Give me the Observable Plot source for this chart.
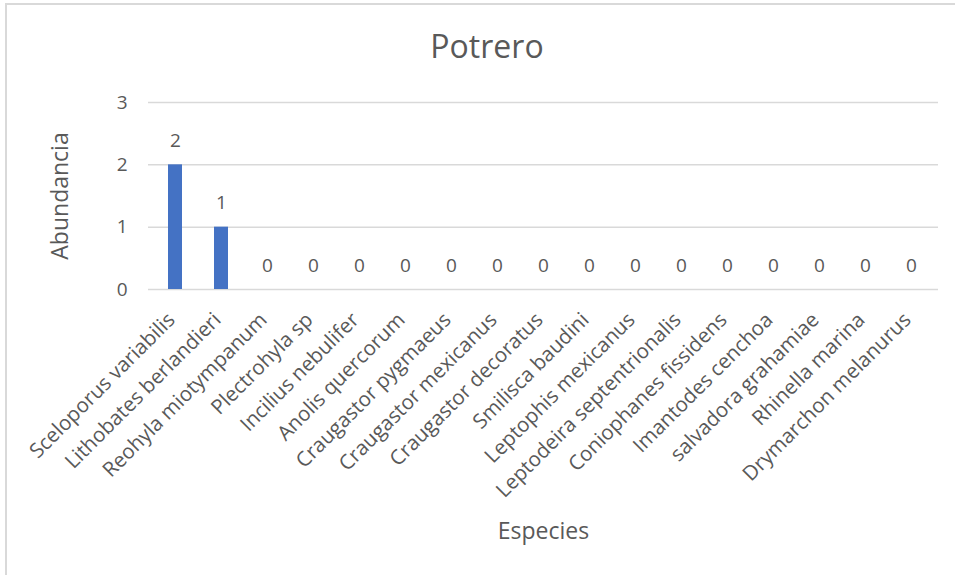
<!DOCTYPE html>
<html>
<head>
<meta charset="utf-8">
<script src="https://cdn.jsdelivr.net/npm/d3@7"></script>
<script src="https://cdn.jsdelivr.net/npm/@observablehq/plot@0.6"></script>
<style>
  html, body { margin: 0; padding: 0; background: #fff; }
  #chart {
    position: relative;
    width: 955px;
    height: 575px;
    overflow: hidden;
    font-family: "Open Sans", sans-serif;
    color: #595959;
  }
  #border {
    position: absolute;
    left: 5px;
    top: 3px;
    width: 1100px;
    height: 1100px;
    border: 2px solid #d9d9d9;
    box-sizing: border-box;
  }
  #title {
    position: relative;
    height: 32px;
    padding-top: 30px;
    padding-bottom: 13px;
    padding-left: 19px;
    font-size: 32px;
    line-height: 32px;
    text-align: center;
  }
  #plot { position: relative; }
</style>
</head>
<body>
<div id="chart">
  <div id="border"></div>
  <div id="title">Potrero</div>
  <div id="plot"></div>
</div>
<script>
// Species sampled at the Potrero site
const species = [
  "Sceloporus variabilis",
  "Lithobates berlandieri",
  "Reohyla miotympanum",
  "Plectrohyla sp",
  "Incilius nebulifer",
  "Anolis quercorum",
  "Craugastor pygmaeus",
  "Craugastor mexicanus",
  "Craugastor decoratus",
  "Smilisca baudini",
  "Leptophis mexicanus",
  "Leptodeira septentrionalis",
  "Coniophanes fissidens",
  "Imantodes cenchoa",
  "salvadora grahamiae",
  "Rhinella marina",
  "Drymarchon melanurus"
];

// Number of individuals recorded per species
const abundance = [2, 1, 0, 0, 0, 0, 0, 0, 0, 0, 0, 0, 0, 0, 0, 0, 0];

const yTicks = [0, 1, 2, 3];

const yLabel = "Abundancia";
const xLabel = "Especies";

const rows = species.map((s, i) => ({species: s, count: abundance[i]}));

const textColor = "#595959";
const gridColor = "#d9d9d9";
const barColor = "#4472C4";

const chart = Plot.plot({
  width: 955,
  height: 500,
  marginTop: 27,
  marginBottom: 286,
  marginLeft: 148,
  marginRight: 17,
  style: {
    fontFamily: "'Open Sans', sans-serif",
    fontSize: "19px",
    color: textColor,
    background: "transparent",
    overflow: "visible"
  },
  x: {domain: species, paddingInner: 0.7, paddingOuter: 0.35},
  y: {domain: [0, 3]},
  marks: [
    Plot.gridY(yTicks, {stroke: gridColor, strokeOpacity: 1, strokeWidth: 1.5}),
    Plot.barY(rows, {x: "species", y: "count", fill: barColor}),
    Plot.text(rows, {
      x: "species",
      y: "count",
      text: d => String(d.count),
      dy: -24,
      fill: textColor,
      fontSize: 19
    }),
    Plot.axisY(yTicks, {
      tickSize: 0,
      tickPadding: 21,
      tickFormat: d3.format("d"),
      label: null,
      fontSize: 19,
      fill: textColor
    }),
    Plot.axisX({
      tickSize: 0,
      tickPadding: 27,
      dx: -4,
      tickRotate: -45,
      label: null,
      fontSize: 20.5,
      fill: textColor
    }),
    Plot.text([yLabel], {
      frameAnchor: "left",
      textAnchor: "middle",
      dx: -88,
      rotate: -90,
      fontSize: 23,
      fill: textColor
    }),
    Plot.text([xLabel], {
      frameAnchor: "bottom",
      lineAnchor: "middle",
      dy: 242,
      fontSize: 23,
      fill: textColor
    })
  ]
});

document.getElementById("plot").appendChild(chart);
</script>
</body>
</html>
